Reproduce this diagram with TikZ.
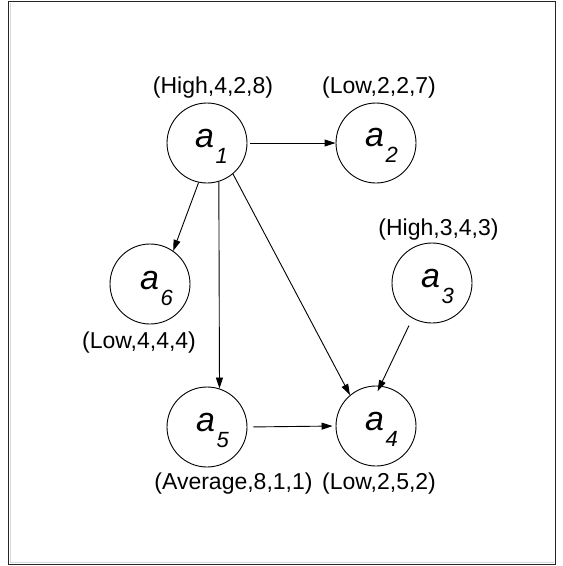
\documentclass[tikz,border=0pt]{standalone}
\usepackage{fontspec}
\setmainfont{Liberation Sans}
\usetikzlibrary{arrows.meta,calc}
\newcommand{\alab}[1]{{\fontsize{34}{34}\selectfont\itshape a\kern1.5pt\raisebox{-16pt}{\fontsize{22}{22}\selectfont #1}}}
\begin{document}
\begin{tikzpicture}[x=1pt,y=-1pt,
  state/.style={circle,draw,line width=0.9pt,minimum size=80pt,inner sep=0pt},
  sym/.style={anchor=base west,inner sep=0pt},
  attr/.style={anchor=base,inner sep=0pt,font=\fontsize{23}{28}\selectfont},
  edge/.style={line width=0.9pt,-{Triangle[length=11pt,width=7pt]}}]
\useasboundingbox (0,0) rectangle (563,566);
\draw[line width=1.2pt,black!85] (8.5,1.5) rectangle (555.5,564.5);
\draw[line width=0.8pt,black!15] (10.5,3) -- (10.5,562.5) -- (554,562.5);
% states
\node[state] (a1) at (207,143) {};
\node[state] (a2) at (376,143) {};
\node[state] (a3) at (432,283) {};
\node[state] (a4) at (376,426) {};
\node[state] (a5) at (207,427) {};
\node[state] (a6) at (150,284) {};
% symbols
\node[sym] (s1) at ($(a1)+(-12,4)$) {\alab{1}};
\node[sym] (s2) at ($(a2)+(-11,3)$) {\alab{2}};
\node[sym] (s3) at ($(a3)+(-11,4)$) {\alab{3}};
\node[sym] (s4) at ($(a4)+(-11,4)$) {\alab{4}};
\node[sym] (s5) at ($(a5)+(-11,4)$) {\alab{5}};
\node[sym] (s6) at ($(a6)+(-10,5)$) {\alab{6}};
% attributes
\node[attr] (l1) at (213,93) {(High,4,2,8)};
\node[attr] (l2) at (379,93) {(Low,2,2,7)};
\node[attr] (l3) at (438.5,235) {(High,3,4,3)};
\node[attr] (l4) at (379,489) {(Low,2,5,2)};
\node[attr] (l5) at (233.5,489) {(Average,8,1,1)};
\node[attr] (l6) at (139,348) {(Low,4,4,4)};
% edges
\draw[edge,shorten <=3pt] (a1.east) -- (a2.west);
\draw[edge] (a1.258) -- (a6.55);
\draw[edge] (a1.287.5) -- (a5.72.5);
\draw[edge] (a1.310) -- (a4.130);
\draw[edge,shorten <=8pt,shorten >=-6pt] (a3.241) -- (a4.84);
\draw[edge,shorten <=6pt,shorten >=3pt] (a5.east) -- (a4.west);
\end{tikzpicture}
\end{document}
